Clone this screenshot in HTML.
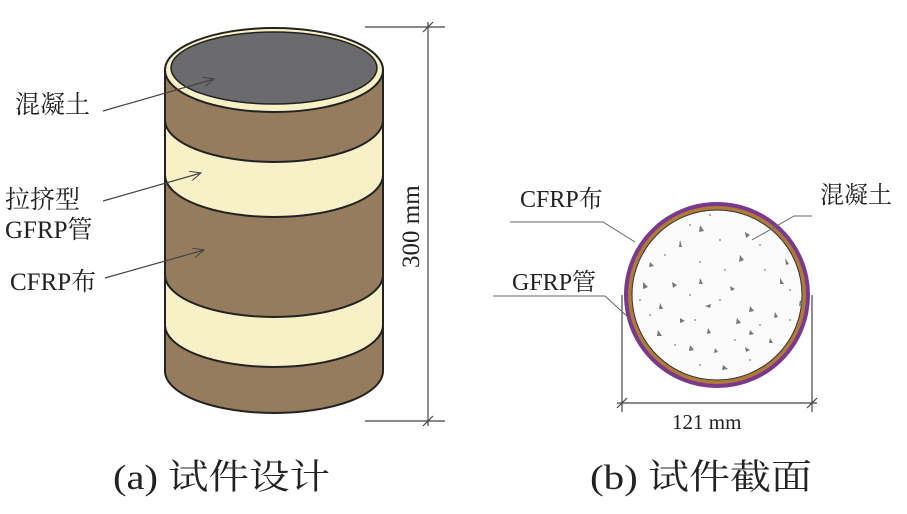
<!DOCTYPE html>
<html><head><meta charset="utf-8"><style>
html,body{margin:0;padding:0;background:#fff;}
svg{display:block;}
text{font-family:"Liberation Serif","Noto Serif CJK SC",serif;fill:#222;}
</style></head><body>
<svg width="907" height="514" viewBox="0 0 907 514" xmlns="http://www.w3.org/2000/svg">
<defs>
<marker id="ar" markerWidth="12" markerHeight="10" refX="11" refY="5" orient="auto" markerUnits="userSpaceOnUse">
<path d="M0,0 L11,5 L0,10" fill="none" stroke="#444" stroke-width="1"/>
</marker>
</defs>
<g stroke="#222" stroke-width="2">
<path d="M165,371 L165,70 L383,70 L383,371 A109,42 0 0 1 165,371 Z" fill="#957c5d"/>
<path d="M165,120 A109,42 0 0 0 383,120 L383,175 A109,42 0 0 1 165,175 Z" fill="#f8f1c8"/>
<path d="M165,275 A109,42 0 0 0 383,275 L383,325 A109,42 0 0 1 165,325 Z" fill="#f8f1c8"/>
<ellipse cx="274" cy="70" rx="109" ry="42" fill="#f8f1c8"/>
<ellipse cx="274" cy="68" rx="103" ry="36" fill="#6b6b6d" stroke-width="1.5"/>
</g>
<g stroke="#444" stroke-width="1.2">
<line x1="365" y1="27" x2="445" y2="27"/>
<line x1="365" y1="421" x2="445" y2="421"/>
<line x1="428" y1="22" x2="428" y2="426"/>
<line x1="423" y1="32" x2="433" y2="22"/>
<line x1="423" y1="426" x2="433" y2="416"/>
</g>
<text x="0" y="0" font-size="25" transform="translate(419,268) rotate(-90)">300 mm</text>
<text x="15" y="113" font-size="25">混凝土</text>
<text x="5" y="208" font-size="25">拉挤型</text>
<text x="5" y="238" font-size="25">GFRP管</text>
<text x="10" y="290" font-size="25">CFRP布</text>
<g stroke="#444" stroke-width="1.2" fill="none">
<line x1="103" y1="111" x2="214" y2="79" marker-end="url(#ar)"/>
<line x1="103" y1="201" x2="201" y2="173" marker-end="url(#ar)"/>
<line x1="105" y1="278" x2="204" y2="250" marker-end="url(#ar)"/>
</g>
<circle cx="717" cy="295" r="93" fill="#7a3a8c"/>
<circle cx="717" cy="295" r="89" fill="#b07a3a"/>
<circle cx="717" cy="295" r="85" fill="#fbfbfb" stroke="#333" stroke-width="1"/>
<g fill="#777">
<path d="M700,225 l4,6 l-5,1z"/><path d="M745,232 l5,3 l-4,3z"/><path d="M680,240 l2,7 l-3,0z"/>
<path d="M740,255 l4,5 l-5,2z"/><path d="M650,262 l4,4 l-5,1z"/><path d="M785,258 l4,6 l-3,1z"/>
<path d="M643,282 l5,5 l-5,2z"/><path d="M672,282 l5,3 l-4,3z"/><path d="M700,278 l3,6 l-4,0z"/>
<path d="M730,286 l5,3 l-4,2z"/><path d="M780,278 l4,6 l-4,0z"/><path d="M660,303 l3,6 l-4,0z"/>
<path d="M705,306 l6,-2 l-1,4z"/><path d="M750,306 l4,5 l-5,1z"/><path d="M775,312 l3,5 l-4,1z"/>
<path d="M680,318 l5,3 l-5,2z"/><path d="M737,318 l4,5 l-5,1z"/><path d="M658,330 l4,6 l-5,0z"/>
<path d="M708,328 l3,5 l-4,1z"/><path d="M750,330 l4,4 l-5,1z"/><path d="M690,345 l4,5 l-5,1z"/>
<path d="M715,348 l3,4 l-4,1z"/><path d="M745,347 l5,3 l-4,2z"/><path d="M723,365 l5,4 l-6,1z"/>
<path d="M800,300 l4,5 l-5,1z"/><path d="M770,338 l3,5 l-4,0z"/>
</g>
<g fill="#999">
<circle cx="690" cy="225" r="1"/><circle cx="720" cy="240" r="1"/><circle cx="760" cy="245" r="1"/><circle cx="665" cy="255" r="1"/>
<circle cx="700" cy="262" r="1"/><circle cx="725" cy="270" r="1"/><circle cx="765" cy="270" r="1"/><circle cx="690" cy="295" r="1"/>
<circle cx="720" cy="300" r="1"/><circle cx="790" cy="290" r="1"/><circle cx="650" cy="315" r="1"/><circle cx="695" cy="320" r="1"/>
<circle cx="760" cy="325" r="1"/><circle cx="675" cy="345" r="1"/><circle cx="735" cy="340" r="1"/><circle cx="700" cy="365" r="1"/>
<circle cx="750" cy="360" r="1"/><circle cx="640" cy="300" r="1"/><circle cx="790" cy="320" r="1"/><circle cx="710" cy="215" r="1"/>
</g>
<g stroke="#444" stroke-width="1.2">
<line x1="622" y1="295" x2="622" y2="412"/>
<line x1="812" y1="295" x2="812" y2="412"/>
<line x1="617" y1="403" x2="817" y2="403"/>
<line x1="617" y1="408" x2="627" y2="398"/>
<line x1="807" y1="408" x2="817" y2="398"/>
</g>
<text x="672" y="429" font-size="21">121 mm</text>
<text x="520" y="207" font-size="24">CFRP布</text>
<text x="512" y="290" font-size="24">GFRP管</text>
<text x="820" y="203" font-size="24">混凝土</text>
<g stroke="#666" stroke-width="1" fill="none">
<polyline points="510,222 603,222 635,242"/>
<polyline points="493,296 605,296 629,318"/>
<polyline points="812,216 794,216 752,240"/>
</g>
<text x="113" y="489" font-size="35" textLength="217" lengthAdjust="spacingAndGlyphs">(a) 试件设计</text>
<text x="590" y="489" font-size="35" textLength="222" lengthAdjust="spacingAndGlyphs">(b) 试件截面</text>
</svg>
</body></html>
